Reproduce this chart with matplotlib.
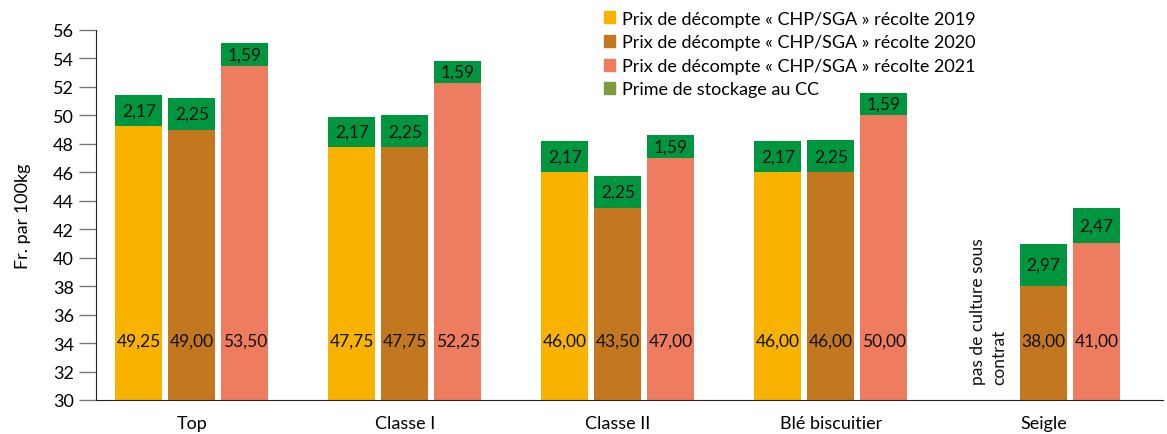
import numpy as np
import matplotlib
matplotlib.use("Agg")
import matplotlib.pyplot as plt
from matplotlib.patches import Patch

plt.rcParams['font.family'] = ['Lato', 'DejaVu Sans']

categories = ["Top", "Classe I", "Classe II", "Blé biscuitier", "Seigle"]
base2019 = [49.25, 47.75, 46.00, 46.00, np.nan]
prime2019 = [2.17, 2.17, 2.17, 2.17, np.nan]
base2020 = [49.00, 47.75, 43.50, 46.00, 38.00]
prime2020 = [2.25, 2.25, 2.25, 2.25, 2.97]
base2021 = [53.50, 52.25, 47.00, 50.00, 41.00]
prime2021 = [1.59, 1.59, 1.59, 1.59, 2.47]
series_labels = ["Prix de décompte « CHP/SGA » récolte 2019",
                 "Prix de décompte « CHP/SGA » récolte 2020",
                 "Prix de décompte « CHP/SGA » récolte 2021",
                 "Prime de stockage au CC"]
yticks = list(range(30, 57, 2))

c2019 = "#F8B200"
c2020 = "#C3781F"
c2021 = "#EE7C5F"
cgreen = "#00963F"
clegend_green = "#7F9A3F"

fig = plt.figure(figsize=(11.67, 4.35), dpi=100)
ax = fig.add_axes([96/1167, 1-401/435, (1163-96)/1167, (401-31)/435])

x = np.arange(len(categories))
w = 0.22
off = 0.249
ymin = 30

def fmt(v):
    return f"{v:.2f}".replace(".", ",")

for bases, primes, col, o in [(base2019, prime2019, c2019, -off),
                              (base2020, prime2020, c2020, 0),
                              (base2021, prime2021, c2021, off)]:
    for i in range(len(categories)):
        b = bases[i]
        p = primes[i]
        if np.isnan(b):
            continue
        xi = x[i] + o
        ax.bar(xi, b - ymin, bottom=ymin, width=w, color=col, linewidth=0)
        ax.bar(xi, p, bottom=b, width=w, color=cgreen, linewidth=0)
        ax.text(xi, 34.2, fmt(b), ha='center', va='center', fontsize=12.5, color='#111111')
        ax.text(xi, b + p / 2, fmt(p), ha='center', va='center', fontsize=12.5, color='#111111')

ax.text(x[4] - off - 0.01, 31.1, "pas de culture sous\ncontrat", rotation=90,
        ha='center', va='bottom', multialignment='left', fontsize=12.5, color='#111111',
        linespacing=1.45)

ax.set_ylim(30, 56)
ax.set_xlim(-0.45, 4.56)
ax.set_yticks(yticks)
ax.set_yticklabels([str(t) for t in yticks], fontsize=13)
ax.set_xticks(x)
ax.set_xticklabels(categories, fontsize=13)
ax.tick_params(axis='x', length=0, pad=11)
ax.tick_params(axis='y', length=12, color='#777777', width=1, pad=4)
for s in ['top', 'right']:
    ax.spines[s].set_visible(False)
ax.spines['left'].set_color('#222222')
ax.spines['bottom'].set_color('#222222')
ax.set_ylabel("Fr. par 100kg", fontsize=13, labelpad=16)

handles = [Patch(color=c2019), Patch(color=c2020), Patch(color=c2021), Patch(color=clegend_green)]
leg = fig.legend(handles, series_labels, loc='upper left', bbox_to_anchor=(592/1167, 1.0),
                 frameon=False, fontsize=13, handlelength=0.65, handleheight=0.65,
                 handletextpad=0.35, labelspacing=0.42, borderaxespad=0.25)

fig.savefig("out.png", dpi=100)
